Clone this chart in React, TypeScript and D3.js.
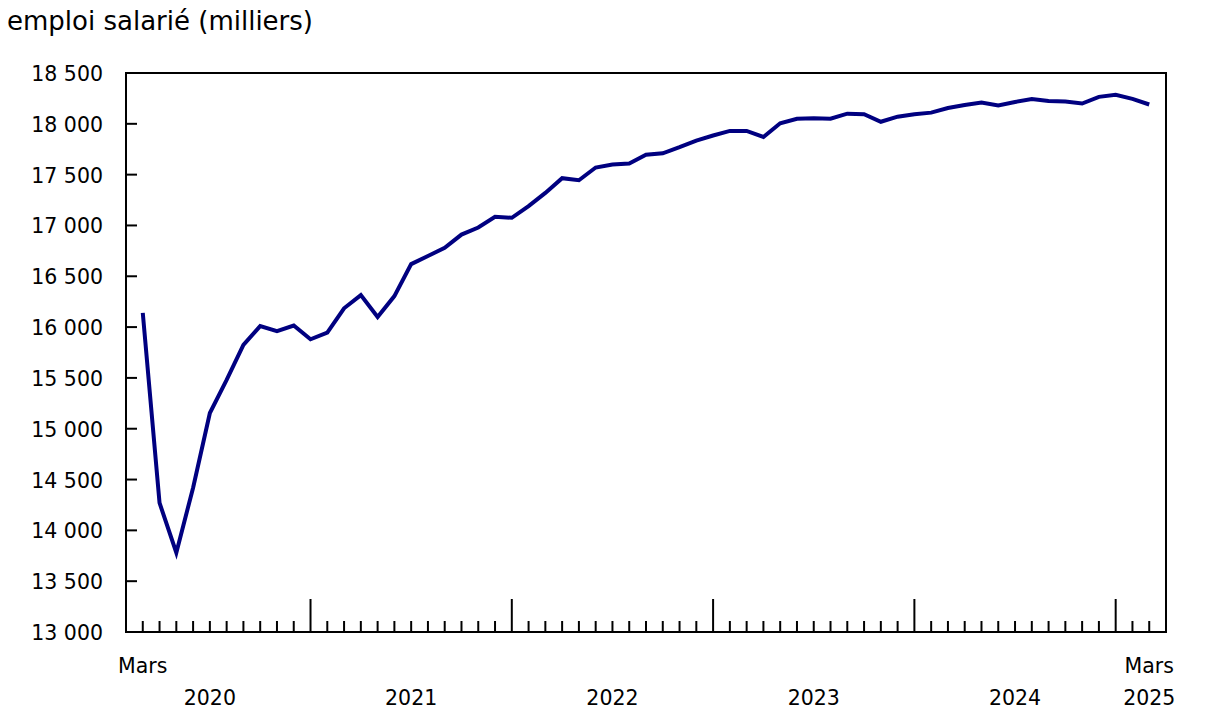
import React from "react";
import * as d3 from "d3";

const months: string[] = d3
  .timeMonth.range(new Date(2020, 2, 1), new Date(2025, 3, 1))
  .map((d) => d3.timeFormat("%Y-%m")(d));

const employment: number[] = [
  16140, 14270, 13780, 14420, 15155, 15480, 15825, 16010, 15960, 16015,
  15880, 15945, 16185, 16315, 16100, 16305, 16620, 16700, 16780, 16910,
  16980, 17085, 17075, 17190, 17320, 17465, 17445, 17570, 17600, 17610,
  17695, 17710, 17770, 17835, 17885, 17930, 17930, 17870, 18005, 18050,
  18055, 18050, 18100, 18095, 18020, 18070, 18095, 18110, 18155, 18185,
  18210, 18180, 18215, 18245, 18225, 18220, 18200, 18265, 18285, 18245,
  18190,
];

const yTicks: number[] = [13000, 13500, 14000, 14500, 15000, 15500, 16000, 16500, 17000, 17500, 18000, 18500];
const yearLabels: { year: string; month: string }[] = [
  { year: "2020", month: "2020-07" },
  { year: "2021", month: "2021-07" },
  { year: "2022", month: "2022-07" },
  { year: "2023", month: "2023-07" },
  { year: "2024", month: "2024-07" },
  { year: "2025", month: "2025-03" },
];
const monthLabels: { label: string; month: string }[] = [
  { label: "Mars", month: "2020-03" },
  { label: "Mars", month: "2025-03" },
];
const title = "emploi salarié (milliers)";

const W = 1205;
const H = 727;
const L = 126;
const R = 1166;
const T = 73;
const B = 632;
const FONT = "'DejaVu Sans', Verdana, sans-serif";

export default function App() {
  const x = d3.scalePoint<string>().domain(months).range([L, R]).padding(1);
  const y = d3.scaleLinear().domain([13000, 18500]).range([B, T]);
  const line = d3
    .line<number>()
    .x((_, i) => x(months[i]) as number)
    .y((d) => y(d));
  const fmt = (v: number) => d3.format(",")(v).replace(",", " ");

  return (
    <svg
      width={W}
      height={H}
      style={{ position: "absolute", left: 0, top: 0, background: "#fff" }}
      fontFamily={FONT}
    >
      <rect x={0} y={0} width={W} height={H} fill="#fff" />
      <text x={7} y={30} fontSize={26} fill="#000">
        {title}
      </text>
      {yTicks.map((t) => (
        <g key={t}>
          <line x1={L} x2={L + 11} y1={y(t)} y2={y(t)} stroke="#000" strokeWidth={2} />
          <text x={103} y={y(t) + 8} fontSize={20.5} textAnchor="end" fill="#000">
            {fmt(t)}
          </text>
        </g>
      ))}
      {months.map((m) => {
        const major = m.endsWith("-01");
        return (
          <line
            key={m}
            x1={x(m)}
            x2={x(m)}
            y1={B}
            y2={major ? B - 33 : B - 11}
            stroke="#000"
            strokeWidth={2}
          />
        );
      })}
      <rect x={L} y={T} width={R - L} height={B - T} fill="none" stroke="#000" strokeWidth={2} />
      <path d={line(employment) || ""} fill="none" stroke="#000080" strokeWidth={4} strokeLinejoin="miter" />
      {monthLabels.map((d, i) => (
        <text key={i} x={x(d.month)} y={673} fontSize={20.5} textAnchor="middle" fill="#000">
          {d.label}
        </text>
      ))}
      {yearLabels.map((d) => (
        <text key={d.year} x={x(d.month)} y={705} fontSize={20.5} textAnchor="middle" fill="#000">
          {d.year}
        </text>
      ))}
    </svg>
  );
}
